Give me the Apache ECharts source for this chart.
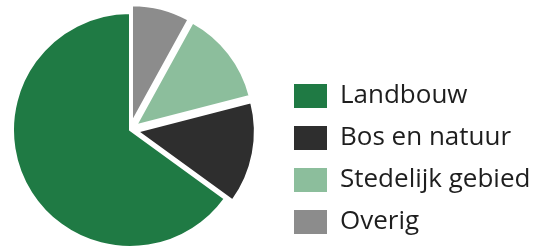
<!DOCTYPE html>
<html><head><meta charset="utf-8">
<script src="https://cdn.jsdelivr.net/npm/echarts@6/dist/echarts.min.js"></script>
<style>html,body{margin:0;padding:0;background:#fff}#c{width:540px;height:250px}</style>
</head><body><div id="c"></div>
<script>
const categories = ["Overig", "Stedelijk gebied", "Bos en natuur", "Landbouw"];
const values = [8, 13, 14, 65];
const legendOrder = ["Landbouw", "Bos en natuur", "Stedelijk gebied", "Overig"];
const colors = {"Landbouw":"#1f7a44","Bos en natuur":"#2e2e2e","Stedelijk gebied":"#8cbe9c","Overig":"#8c8c8c"};
const exploded = {"Overig":true,"Stedelijk gebied":true,"Bos en natuur":true,"Landbouw":false};

const chart = echarts.init(document.getElementById('c'));
chart.setOption({
  animation:false,
  legend:{
    orient:'vertical', left:292, top:82, itemWidth:35, itemHeight:26, itemGap:14,
    icon:'rect', selectedMode:false, data:legendOrder, padding:0,
    textStyle:{fontFamily:'Open Sans', fontSize:26, lineHeight:22, color:'#1e1e1e', padding:[4,0,0,7]}
  },
  series:[{
    type:'pie', center:[130,130], radius:117, startAngle:90, clockwise:true,
    selectedMode:'multiple', selectedOffset:8, label:{show:false}, labelLine:{show:false},
    itemStyle:{borderColor:'#fff', borderWidth:2},
    emphasis:{disabled:true},
    data:categories.map((c,i)=>({name:c, value:values[i], selected:exploded[c], itemStyle:{color:colors[c]}}))
  }]
});
</script></body></html>
